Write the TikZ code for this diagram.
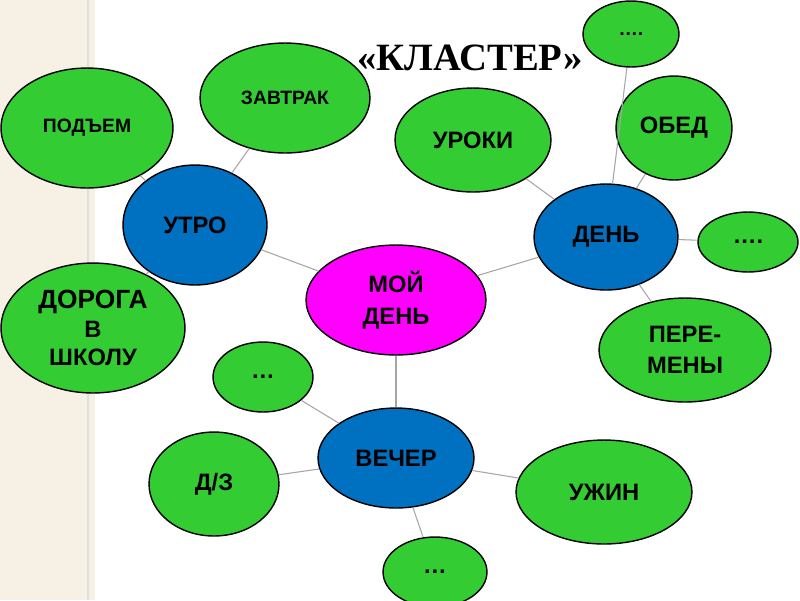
\documentclass[tikz,border=0pt]{standalone}
\usepackage{fontspec}
\setmainfont{Liberation Sans}
\newfontfamily\titlefont{Liberation Serif}
\usetikzlibrary{shapes.geometric}
\definecolor{gr}{RGB}{51,204,51}
\definecolor{bl}{RGB}{0,112,192}
\definecolor{mg}{RGB}{255,0,255}
\definecolor{stripe}{RGB}{246,241,228}
\tikzset{
 bub/.style={ellipse,draw=black,line width=0.8pt,inner sep=0pt,align=center,
   font=\fontsize{13.5}{16}\selectfont\bfseries},
 g/.style={bub,fill=gr}, b/.style={bub,fill=bl}, m/.style={bub,fill=mg},
 link/.style={draw=gray!70,line width=0.6pt}
}
\newcommand{\bb}[6]{\node[#1,minimum width=#4*0.04cm,minimum height=#5*0.04cm] (#2) at (#3) {#6};}
\begin{document}
\begin{tikzpicture}[x=0.02cm,y=-0.02cm]
\useasboundingbox (0,0) rectangle (800,600);
\fill[white] (0,0) rectangle (800,600);
\fill[stripe] (0,0) rectangle (95,600);
\draw[gray!25,line width=0.6pt] (88,0) -- (88,600);
\node[font=\titlefont\fontsize{22}{26}\selectfont\bfseries] (title) at (470,58) {«КЛАСТЕР»};
\bb{m}{c}{396,300}{90}{55}{МОЙ\\[2pt]ДЕНЬ}
\bb{b}{ut}{195,225}{72}{60}{УТРО}
\bb{b}{dn}{606,237}{72}{53}{ДЕНЬ}
\bb{b}{ve}{396,458}{78}{50}{ВЕЧЕР}
\bb{g}{pod}{87,128}{86}{60}{\fontsize{11}{13}\selectfont ПОДЪЕМ}
\bb{g}{zav}{285,98}{85}{55}{\fontsize{11}{13}\selectfont ЗАВТРАК}
\bb{g}{dor}{93,328}{92}{65}{\fontsize{15}{20}\selectfont ДОРОГА\\В\\ШКОЛУ}
\bb{g}{ur}{473,140}{78}{52}{УРОКИ}
\bb{g}{ob}{674,128}{58}{52}{ОБЕД}
\bb{g}{t1}{631,34}{48}{33}{\fontsize{11}{13}\selectfont ….}
\bb{g}{t2}{748,242}{50}{30}{….}
\bb{g}{per}{685,350}{86}{52}{ПЕРЕ-\\[2pt]МЕНЫ}
\bb{g}{t3}{263,377}{50}{35}{…}
\bb{g}{dz}{214,484}{65}{52}{Д/З}
\bb{g}{uz}{604,492}{88}{52}{УЖИН}
\bb{g}{t4}{435,572}{52}{35}{…}
\foreach \a/\z in {c/ut,c/dn,c/ve,ut/pod,ut/zav,ut/dor,dn/ur,dn/ob,dn/t1,dn/t2,dn/per,ve/t3,ve/dz,ve/uz,ve/t4}
  \path[link] (\a) -- (\z);
\end{tikzpicture}
\end{document}
